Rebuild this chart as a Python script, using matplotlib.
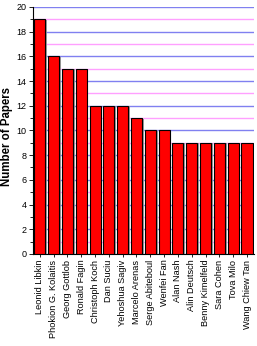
import matplotlib
matplotlib.use("Agg")
import matplotlib.pyplot as plt
from matplotlib.ticker import MultipleLocator
import matplotlib.patheffects as pe

authors = ["Leonid Libkin", "Phokion G. Kolaitis", "Georg Gottlob", "Ronald Fagin",
           "Christoph Koch", "Dan Suciu", "Yehoshua Sagiv", "Marcelo Arenas",
           "Serge Abiteboul", "Wenfei Fan", "Alan Nash", "Alin Deutsch",
           "Benny Kimelfeld", "Sara Cohen", "Tova Milo", "Wang Chiew Tan"]
papers = [19, 16, 15, 15, 12, 12, 12, 11, 10, 10, 9, 9, 9, 9, 9, 9]

plt.rcParams['font.family'] = ['Liberation Sans', 'DejaVu Sans']

fig = plt.figure(figsize=(2.57, 3.46), dpi=100)
ax = fig.add_axes([0.128, 0.266, 0.86, 0.714])

x = list(range(len(authors)))
bars = ax.bar(x, papers, width=0.8, color='#ff0000', edgecolor='black', linewidth=0.8, zorder=3)
for b in bars:
    b.set_path_effects([pe.SimplePatchShadow(offset=(1.2, -0.5), shadow_rgbFace='#909090', alpha=0.9), pe.Normal()])

ax.set_xlim(-0.5, len(authors) - 0.5)
ax.set_ylim(0, 20)
ax.yaxis.set_major_locator(MultipleLocator(2))
ax.yaxis.set_minor_locator(MultipleLocator(1))
ax.grid(True, which='major', axis='y', color='#8080f0', linewidth=1.0, zorder=0)
ax.grid(True, which='minor', axis='y', color='#ffa0ff', linewidth=1.0, zorder=0)
ax.set_axisbelow(True)

ax.set_xticks(x)
ax.set_xticklabels(authors, rotation=90, fontsize=6.6)
ax.tick_params(axis='x', length=2, width=0.6, pad=2)
ax.tick_params(axis='y', which='major', labelsize=6.5, length=3, width=0.6, pad=1.5)
ax.tick_params(axis='y', which='minor', length=2, width=0.6)

for s in ['top', 'right']:
    ax.spines[s].set_visible(False)
for s in ['left', 'bottom']:
    ax.spines[s].set_linewidth(0.8)

ax.set_ylabel("Number of Papers", fontsize=8.3, fontweight='bold')
ax.yaxis.set_label_coords(-0.088, 0.474)

fig.savefig("out.png", dpi=100)
